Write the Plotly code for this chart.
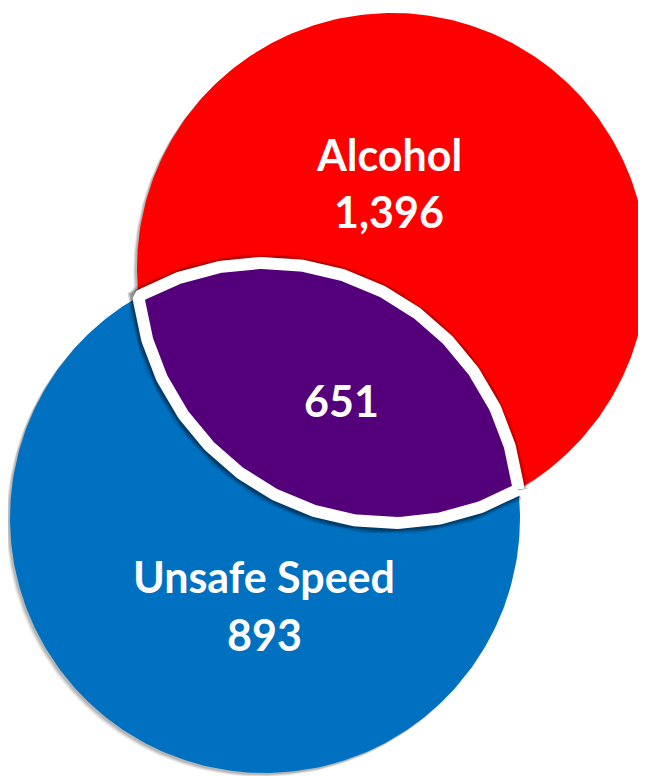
import numpy as np
import plotly.graph_objects as go

# Venn counts
categories = ["Alcohol", "Unsafe Speed"]
only_counts = [1396, 893]
overlap_label = "Both"
overlap_count = 651

# circle geometry in page pixels (x right, y down)
CIRCLES = {
    "Alcohol": {"cx": 392, "cy": 268, "r": 255, "color": "#FF0000"},
    "Unsafe Speed": {"cx": 265, "cy": 518, "r": 255, "color": "#0070C0"},
}
LENS_COLOR = "#53007A"
LABEL_POS = {
    "Alcohol": (389, 154, 211),
    "Unsafe Speed": (264, 576, 634),
    "Both": (341, 400),
}
FONT = "Lato, 'Open Sans', sans-serif"
PAGE_W, PAGE_H, BODY_MARGIN = 646, 776, 8


def circle_xy(cx, cy, r, n=361):
    t = np.linspace(0, 2 * np.pi, n)
    return cx + r * np.cos(t), cy + r * np.sin(t)


def lens_xy(a, b, n=200):
    """Intersection region of two circles as a closed polygon."""
    dx, dy = b["cx"] - a["cx"], b["cy"] - a["cy"]
    d = np.hypot(dx, dy)
    alpha_a = np.arccos((d ** 2 + a["r"] ** 2 - b["r"] ** 2) / (2 * d * a["r"]))
    alpha_b = np.arccos((d ** 2 + b["r"] ** 2 - a["r"] ** 2) / (2 * d * b["r"]))
    th_ab = np.arctan2(dy, dx)
    th_ba = np.arctan2(-dy, -dx)
    ta = np.linspace(th_ab - alpha_a, th_ab + alpha_a, n)
    tb = np.linspace(th_ba - alpha_b, th_ba + alpha_b, n)
    xs = np.concatenate([a["cx"] + a["r"] * np.cos(ta), b["cx"] + b["r"] * np.cos(tb)])
    ys = np.concatenate([a["cy"] + a["r"] * np.sin(ta), b["cy"] + b["r"] * np.sin(tb)])
    return np.append(xs, xs[0]), np.append(ys, ys[0])


fig = go.Figure()

for name in categories:
    c = CIRCLES[name]
    # soft drop shadow towards the lower left
    for off, alpha in [(4, 0.07), (3, 0.10), (2, 0.14)]:
        sx, sy = circle_xy(c["cx"] - off, c["cy"] + off, c["r"])
        fig.add_trace(go.Scatter(
            x=sx, y=sy, mode="lines", fill="toself",
            fillcolor=f"rgba(0,0,0,{alpha})", line=dict(width=0),
            hoverinfo="skip", showlegend=False
        ))
    x, y = circle_xy(c["cx"], c["cy"], c["r"])
    fig.add_trace(go.Scatter(
        x=x, y=y, mode="lines", fill="toself", fillcolor=c["color"],
        line=dict(width=0), name=name, hoverinfo="name", showlegend=False
    ))

lx, ly = lens_xy(CIRCLES["Alcohol"], CIRCLES["Unsafe Speed"])
# shadow around the white border of the overlap
for w, alpha in [(21, 0.10), (18, 0.16), (15, 0.25)]:
    fig.add_trace(go.Scatter(
        x=lx - 1, y=ly + 1, mode="lines",
        line=dict(width=w, color=f"rgba(0,0,0,{alpha})"),
        hoverinfo="skip", showlegend=False
    ))
fig.add_trace(go.Scatter(
    x=lx, y=ly, mode="lines", fill="toself", fillcolor=LENS_COLOR,
    line=dict(width=12, color="white"), name=overlap_label,
    hoverinfo="name", showlegend=False
))

annotations = []
for name, count in zip(categories, only_counts):
    px_, y1, y2 = LABEL_POS[name]
    annotations.append(dict(x=px_, y=y1, text=f"<b>{name}</b>"))
    annotations.append(dict(x=px_, y=y2, text=f"<b>{count:,}</b>"))
bx, by = LABEL_POS[overlap_label]
annotations.append(dict(x=bx, y=by, text=f"<b>{overlap_count:,}</b>"))
for a in annotations:
    a.update(xref="x", yref="y", showarrow=False, xanchor="center",
             yanchor="middle", font=dict(family=FONT, size=43, color="white"))

# the page body adds an 8px margin, so the figure is shrunk to fit and the
# axis ranges are shifted to keep page pixels and data units aligned
fig.update_layout(
    width=PAGE_W - BODY_MARGIN, height=PAGE_H - BODY_MARGIN,
    margin=dict(l=0, r=0, t=0, b=0, pad=0),
    paper_bgcolor="white", plot_bgcolor="white",
    xaxis=dict(range=[BODY_MARGIN, PAGE_W], visible=False, fixedrange=True),
    yaxis=dict(range=[PAGE_H, BODY_MARGIN], visible=False, fixedrange=True),
    annotations=annotations,
)

fig.write_html("out.html")
